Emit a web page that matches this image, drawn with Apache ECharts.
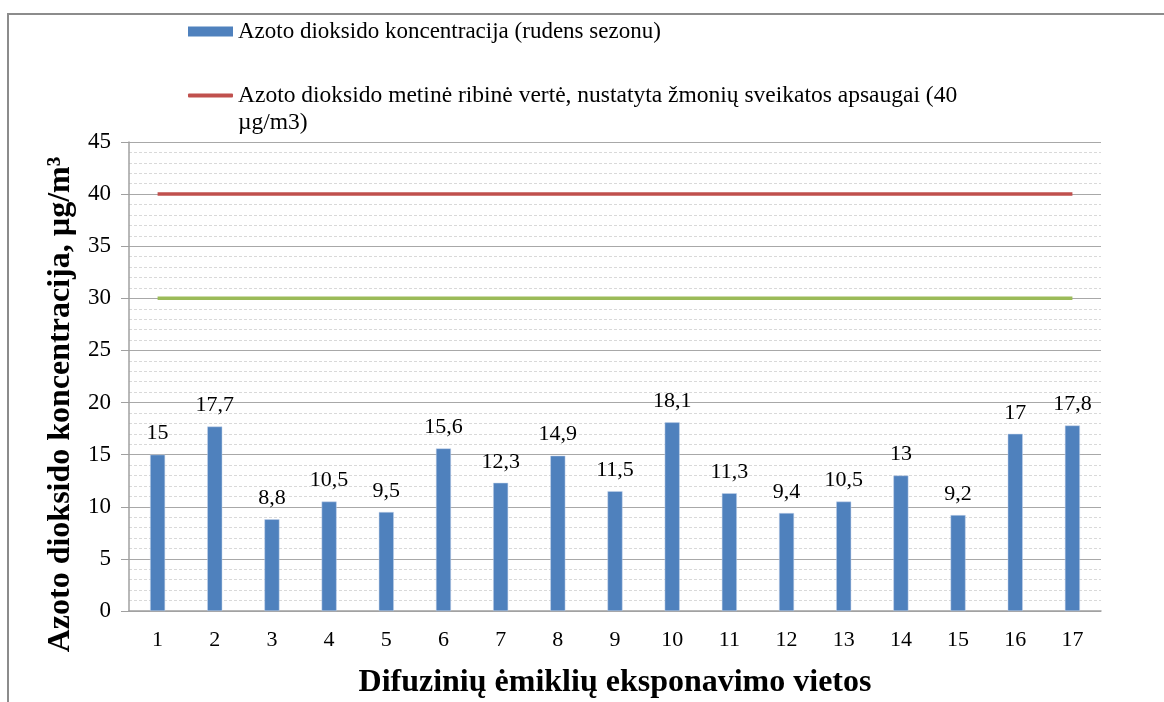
<!DOCTYPE html>
<html>
<head>
<meta charset="utf-8">
<script src="https://cdn.jsdelivr.net/npm/echarts@6/dist/echarts.min.js"></script>
<style>
  html, body { margin: 0; padding: 0; background: #fff; }
  #main { width: 1164px; height: 702px; }
</style>
</head>
<body>
<div id="main"></div>
<script>
// duomenys
const vietos = ['1', '2', '3', '4', '5', '6', '7', '8', '9', '10', '11', '12', '13', '14', '15', '16', '17'];
const koncentracija = [15, 17.7, 8.8, 10.5, 9.5, 15.6, 12.3, 14.9, 11.5, 18.1, 11.3, 9.4, 10.5, 13, 9.2, 17, 17.8];
const ribineVerte = vietos.map(() => 40);
const antraRiba = vietos.map(() => 30);

const barName = 'Azoto dioksido koncentracija (rudens sezonu)';
const redName = 'Azoto dioksido metinė ribinė vertė, nustatyta žmonių sveikatos apsaugai (40 µg/m3)';
const font = '"Liberation Serif", "DejaVu Serif", serif';

function chart() {
    let myChart = echarts.init(document.querySelector('#main'));
    let option = {
        animation: false,
        textStyle: { fontFamily: font },
        graphic: [{
            type: 'rect',
            shape: { x: 8, y: 14, width: 1200, height: 760 },
            style: { fill: 'none', stroke: '#8c8c8c', lineWidth: 2 },
            silent: true
        }],
        legend: [
            {
                left: 188,
                top: 20,
                padding: 0,
                itemWidth: 45,
                itemHeight: 10,
                itemGap: 4,
                data: [{ name: barName, icon: 'rect', itemStyle: { borderWidth: 0 } }],
                textStyle: { fontFamily: font, fontSize: 23, color: '#000' }
            },
            {
                left: 188,
                top: 55,
                padding: 0,
                itemWidth: 45,
                itemHeight: 4,
                data: [{ name: redName, icon: 'roundRect', itemStyle: { borderWidth: 0 } }],
                // tuščia pirma eilutė, kad ženklas būtų ties pirmąja teksto eilute
                formatter: function (name) {
                    return '\n' + name.replace(' µg/m3)', '\nµg/m3)');
                },
                textStyle: { fontFamily: font, fontSize: 23.5, color: '#000', lineHeight: 27 }
            }
        ],
        grid: {
            left: 129,
            right: 63,
            top: 142,
            bottom: 91,
            outerBoundsMode: 'none'
        },
        xAxis: {
            type: 'category',
            data: vietos,
            name: 'Difuzinių ėmiklių eksponavimo vietos',
            nameLocation: 'middle',
            nameGap: 56,
            nameTextStyle: { fontFamily: font, fontSize: 32, fontWeight: 'bold', color: '#000' },
            axisLine: { lineStyle: { color: '#a0a0a0', width: 1.5 } },
            axisTick: { show: false },
            axisLabel: { fontSize: 22, color: '#000', margin: 18, fontFamily: font }
        },
        yAxis: {
            type: 'value',
            min: 0,
            max: 45,
            interval: 5,
            name: 'Azoto dioksido koncentracija, µg/m³',
            nameLocation: 'middle',
            nameGap: 50,
            nameTextStyle: {
                fontFamily: font, fontSize: 32, fontWeight: 'bold', color: '#000',
                padding: [0, 56, 0, 0]
            },
            axisLine: { show: true, lineStyle: { color: '#a0a0a0', width: 1.5 } },
            axisTick: { show: true, length: 8, lineStyle: { color: '#a0a0a0' } },
            axisLabel: { fontSize: 23, color: '#000', margin: 18, fontFamily: font },
            splitLine: { lineStyle: { color: '#a8a8a8', width: 1.2 } },
            minorTick: { show: false, splitNumber: 5 },
            minorSplitLine: { show: true, lineStyle: { color: '#d9d9d9', type: [3, 2], width: 1 } }
        },
        series: [
            {
                name: barName,
                type: 'bar',
                data: koncentracija,
                barWidth: 15,
                itemStyle: { color: '#4f81bd', borderColor: '#c6d5ea', borderWidth: 0.5 },
                label: {
                    show: true,
                    position: 'top',
                    distance: 10,
                    fontSize: 22,
                    color: '#000',
                    fontFamily: font,
                    formatter: p => String(p.value).replace('.', ',')
                },
                z: 3
            },
            {
                name: redName,
                type: 'line',
                data: ribineVerte,
                symbol: 'none',
                lineStyle: { color: '#c0504d', width: 3.5 },
                itemStyle: { color: '#c0504d' },
                z: 4
            },
            {
                name: 'Riba 30',
                type: 'line',
                data: antraRiba,
                symbol: 'none',
                lineStyle: { color: '#9bbb59', width: 3.5 },
                itemStyle: { color: '#9bbb59' },
                z: 4
            }
        ]
    };
    myChart.setOption(option);
}
chart();
</script>
</body>
</html>
